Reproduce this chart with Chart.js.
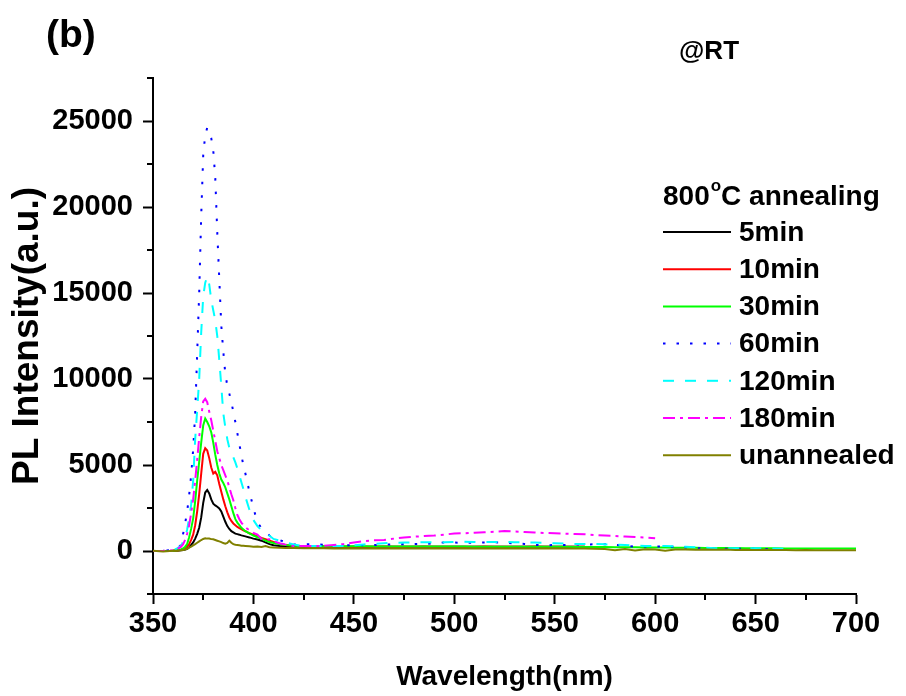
<!DOCTYPE html>
<html>
<head>
<meta charset="utf-8">
<script src="https://cdn.jsdelivr.net/npm/chart.js@4.4.1/dist/chart.umd.min.js"></script>
<style>
  body { margin: 0; background: #fff; }
</style>
</head>
<body>
<canvas id="plChart" width="906" height="696"></canvas>
<script>
// wavelength grid (nm), denser around the 376 nm band-edge peak
const wavelength = [
  350, 355, 360, 362, 364,
  365, 366, 367, 368, 369, 370, 371, 372, 373, 374,
  375, 376, 377, 378, 379, 380, 381, 382, 383, 384,
  385, 386, 387, 388, 389, 390, 391, 392, 393, 394,
  395, 396, 398, 400, 402, 404, 406, 408, 410, 413,
  416, 420, 425, 430, 435, 440, 445, 450, 455, 460,
  465, 470, 475, 480, 485, 490, 495, 500, 505, 510,
  515, 520, 525, 530, 535, 540, 545, 550, 555, 560,
  565, 570, 575, 580, 585, 590, 595, 600, 605, 610,
  615, 620, 625, 630, 635, 640, 645, 650, 655, 660,
  665, 670, 675, 680, 685, 690, 695, 700
];

const pl5min = [
  0, 0, 10, 20, 40,
  60, 90, 130, 220, 350, 500, 720, 1000, 1350, 1950,
  2800, 3400, 3550, 3350, 3000, 2750, 2650, 2570, 2480, 2300,
  2000, 1700, 1450, 1280, 1150, 1080, 1010, 980, 950, 910,
  880, 850, 790, 720, 670, 600, 500, 400, 330, 290,
  270, 260, 250, 250, 245, 250, 250, 245, 250, 250,
  250, 245, 250, 250, 245, 250, 250, 250, 245, 250,
  250, 245, 250, 250, 245, 250, 250, 245, 250, 245,
  240, null, null, null, null, null, null, null, null, null,
  null, null, null, null, null, null, null, null, null, null,
  null, null, null, null, null, null, null, null
];

const pl10min = [
  0, 0, 10, 30, 70,
  120, 180, 280, 400, 650, 950, 1500, 2300, 3300, 4500,
  5650, 5980, 5850, 5400, 4850, 4500, 4600, 4400, 3900, 3450,
  3000, 2600, 2250, 1950, 1750, 1600, 1500, 1400, 1330, 1270,
  1200, 1150, 1030, 950, 860, 760, 680, 600, 520, 420,
  350, 300, 270, 260, 255, 250, 250, 250, 250, 250,
  255, 250, 245, 250, 255, 250, 250, 245, 250, 250,
  255, 250, 250, 245, 250, 255, 250, 250, 245, 245,
  240, null, null, null, null, null, null, null, null, null,
  null, null, null, null, null, null, null, null, null, null,
  null, null, null, null, null, null, null, null
];

const pl30min = [
  0, 0, 20, 50, 90,
  150, 250, 400, 800, 1300, 1900, 2900, 4100, 5200, 6300,
  7300, 7700, 7500, 7250, 6900, 6300, 5600, 5000, 4500, 4150,
  3950, 3700, 3350, 3000, 2600, 2200, 1850, 1650, 1500, 1350,
  1250, 1150, 1030, 900, 800, 720, 600, 520, 460, 400,
  350, 300, 290, 290, 280, 280, 280, 270, 270, 265,
  265, 260, 260, 260, 255, 260, 260, 255, 255, 250,
  250, 250, 250, 250, 245, 245, 240, 240, 240, 235,
  235, 230, 230, 225, 220, 215, 210, 205, 200, 195,
  190, 185, 180, 175, 170, 170, 165, 160, 160, 155,
  150, 150, 145, 145, 140, 140, 140, 140
];

const pl60min = [
  0, 20, 60, 150, 350,
  1000, 1600, 2300, 3250, 4400, 5900, 8000, 11500, 15000, 19500,
  23000, 24200, 24600, 24350, 24000, 23300, 21700, 18500, 15800, 13100,
  11600, 10300, 9600, 9150, 8650, 8100, 7500, 6850, 6200, 5600,
  4950, 4500, 3450, 2500, 1650, 1350, 1100, 900, 780, 640,
  500, 380, 380, 400, 360, 300, 320, 350, 340, 350,
  370, 390, 390, 400, 410, 450, 500, 490, 480, 490,
  500, 505, 480, 440, 410, 350, 330, 350, 350, 370,
  380, 390, 390, 360, 300, 250, 260, 260, 260, 250,
  210, 170, 140, 140, 135, 135, 135, 130, 120, 115,
  null, null, null, null, null, null, null, null
];

const pl120min = [
  0, 10, 50, 150, 300,
  550, 750, 1250, 1900, 2700, 4100, 6500, 8200, 10000, 12700,
  14800, 15600, 15950, 15500, 14600, 14000, 13400, 12500, 11100, 9600,
  8000, 7200, 6500, 6000, 5700, 5450, 5150, 4800, 4400, 4000,
  3600, 3150, 2400, 1800, 1450, 1200, 1120, 880, 700, 600,
  500, 380, 290, 290, 290, 290, 290, 330, 380, 420,
  450, 480, 490, 505, 505, 505, 505, 520, 540, 530,
  520, 520, 520, 510, 505, 490, 470, 450, 430, 410,
  410, 410, 390, 370, 350, 320, 290, 290, 290, 270,
  250, 220, 190, 160, 160, 160, 160, 160, 150, 140,
  120, null, null, null, null, null, null, null
];

const pl180min = [
  0, 10, 40, 100, 250,
  400, 650, 1000, 1500, 2200, 3000, 4100, 5300, 6600, 7800,
  8700, 8850, 8650, 8100, 7600, 7000, 6400, 5800, 5400, 5000,
  4700, 4400, 4100, 3700, 3300, 2950, 2500, 2100, 1850, 1650,
  1500, 1380, 1200, 1050, 950, 700, 650, 680, 560, 450,
  370, 290, 290, 290, 300, 350, 410, 490, 570, 620,
  640, 720, 780, 830, 870, 900, 950, 1020, 1030, 1060,
  1090, 1120, 1160, 1130, 1100, 1080, 1050, 1030, 1010, 990,
  970, 930, 900, 870, 840, 810, 780, 740, null, null,
  null, null, null, null, null, null, null, null, null, null,
  null, null, null, null, null, null, null, null
];

const plUnannealed = [
  20, -30, 10, 20, 40,
  60, 90, 130, 190, 260, 330, 400, 480, 560, 640,
  700, 740, 720, 730, 690, 680, 640, 600, 560, 520,
  460, 430, 470, 600, 480, 400, 360, 350, 330, 310,
  300, 290, 270, 250, 260, 240, 290, 220, 200, 190,
  180, 170, 160, 170, 160, 150, 160, 150, 150, 150,
  150, 160, 140, 150, 160, 150, 140, 150, 160, 150,
  150, 140, 150, 160, 150, 140, 150, 150, 140, 150,
  140, 130, 120, 40, 110, 30, 100, 90, 20, 80,
  90, 70, 80, 70, 80, 60, 70, 60, 70, 60,
  60, 50, 60, 50, 50, 50, 50, 40
];

const seriesNames = ['5min', '10min', '30min', '60min', '120min', '180min', 'unannealed'];
const seriesValues = [pl5min, pl10min, pl30min, pl60min, pl120min, pl180min, plUnannealed];
const seriesColors = ['#000000', '#ff0000', '#00ff00', '#0000ff', '#00ffff', '#ff00ff', '#808000'];
const seriesDashes = [[], [], [], [2.5, 11], [11, 11], [12, 5, 3, 5], []];

const xMajorTicks = [350, 400, 450, 500, 550, 600, 650, 700];
const xMinorTicks = [375, 425, 475, 525, 575, 625, 675];
const yMajorTicks = [0, 5000, 10000, 15000, 20000, 25000];
const yMinorTicks = [-2500, 2500, 7500, 12500, 17500, 22500, 27500];

const FONT = "'Liberation Sans', Arial, Helvetica, sans-serif";

const datasets = seriesNames.map((name, i) => ({
  label: name,
  data: wavelength.map((w, k) => ({ x: w, y: seriesValues[i][k] })),
  borderColor: seriesColors[i],
  borderDash: seriesDashes[i],
  borderWidth: 2,
  pointRadius: 0,
  fill: false,
  tension: 0,
  spanGaps: false,
  order: seriesNames.length - 1 - i
}));

// minor ticks, legend box and the corner labels
const extras = {
  id: 'extras',
  afterDraw(chart) {
    const ctx = chart.ctx;
    const xs = chart.scales.x;
    const ys = chart.scales.y;
    const area = chart.chartArea;

    ctx.save();
    ctx.strokeStyle = '#000';
    ctx.lineWidth = 2;
    ctx.beginPath();
    xMinorTicks.forEach(v => {
      const px = Math.round(xs.getPixelForValue(v));
      ctx.moveTo(px, area.bottom);
      ctx.lineTo(px, area.bottom + 6);
    });
    yMinorTicks.forEach(v => {
      const py = Math.round(ys.getPixelForValue(v));
      ctx.moveTo(area.left, py);
      ctx.lineTo(area.left - 6, py);
    });
    ctx.stroke();

    ctx.fillStyle = '#000';
    ctx.textBaseline = 'middle';
    ctx.textAlign = 'left';

    ctx.font = 'bold 39px ' + FONT;
    ctx.fillText('(b)', 46, 36);

    ctx.font = 'bold 26px ' + FONT;
    ctx.fillText('@RT', 679, 52);

    // legend
    const lx = 663, ly = 197, rowH = 37.2;
    ctx.font = 'bold 28px ' + FONT;
    let tx = lx;
    ctx.fillText('800', tx, ly);
    tx += ctx.measureText('800').width;
    ctx.font = 'bold 17px ' + FONT;
    ctx.fillText('o', tx + 1, ly - 11);
    tx += ctx.measureText('o').width + 1;
    ctx.font = 'bold 28px ' + FONT;
    ctx.fillText('C annealing', tx, ly);

    chart.data.datasets.forEach((ds, i) => {
      const y = ly + 35 + i * rowH;
      ctx.beginPath();
      ctx.strokeStyle = ds.borderColor;
      ctx.lineWidth = 2;
      ctx.setLineDash(ds.borderDash);
      ctx.moveTo(lx, y);
      ctx.lineTo(lx + 68, y);
      ctx.stroke();
      ctx.setLineDash([]);
      ctx.fillText(ds.label, lx + 76, y + 1);
    });
    ctx.restore();
  }
};

const ctx = document.getElementById('plChart').getContext('2d');

const plChart = new Chart(ctx, {
  type: 'line',
  data: { datasets: datasets },
  plugins: [extras],
  options: {
    responsive: false,
    animation: false,
    devicePixelRatio: 1,
    layout: { padding: { left: 0, top: 78, right: 50, bottom: 0 } },
    plugins: {
      legend: { display: false },
      tooltip: { enabled: false }
    },
    scales: {
      x: {
        type: 'linear',
        min: 350,
        max: 700,
        afterBuildTicks: scale => { scale.ticks = xMajorTicks.map(v => ({ value: v })); },
        afterFit: scale => { scale.height = 102; },
        grid: { drawOnChartArea: false, drawTicks: true, tickLength: 10, tickColor: '#000', tickWidth: 2 },
        border: { display: true, color: '#000', width: 2 },
        ticks: {
          color: '#000',
          padding: 3,
          maxRotation: 0,
          font: { family: FONT, size: 29, weight: 'bold' },
          callback: v => String(v)
        },
        title: {
          display: true,
          text: 'Wavelength(nm)',
          color: '#000',
          padding: { top: 0, bottom: 2 },
          font: { family: FONT, size: 28, weight: 'bold' }
        }
      },
      y: {
        type: 'linear',
        min: -2500,
        max: 27500,
        afterBuildTicks: scale => { scale.ticks = yMajorTicks.map(v => ({ value: v })); },
        afterFit: scale => { scale.width = 153; },
        grid: { drawOnChartArea: false, drawTicks: true, tickLength: 10, tickColor: '#000', tickWidth: 2 },
        border: { display: true, color: '#000', width: 2 },
        ticks: {
          color: '#000',
          padding: 10,
          font: { family: FONT, size: 29, weight: 'bold' },
          callback: v => String(v)
        },
        title: {
          display: true,
          text: 'PL Intensity(a.u.)',
          color: '#000',
          padding: { top: 6, bottom: 0 },
          font: { family: FONT, size: 37, weight: 'bold' }
        }
      }
    }
  }
});
</script>
</body>
</html>
